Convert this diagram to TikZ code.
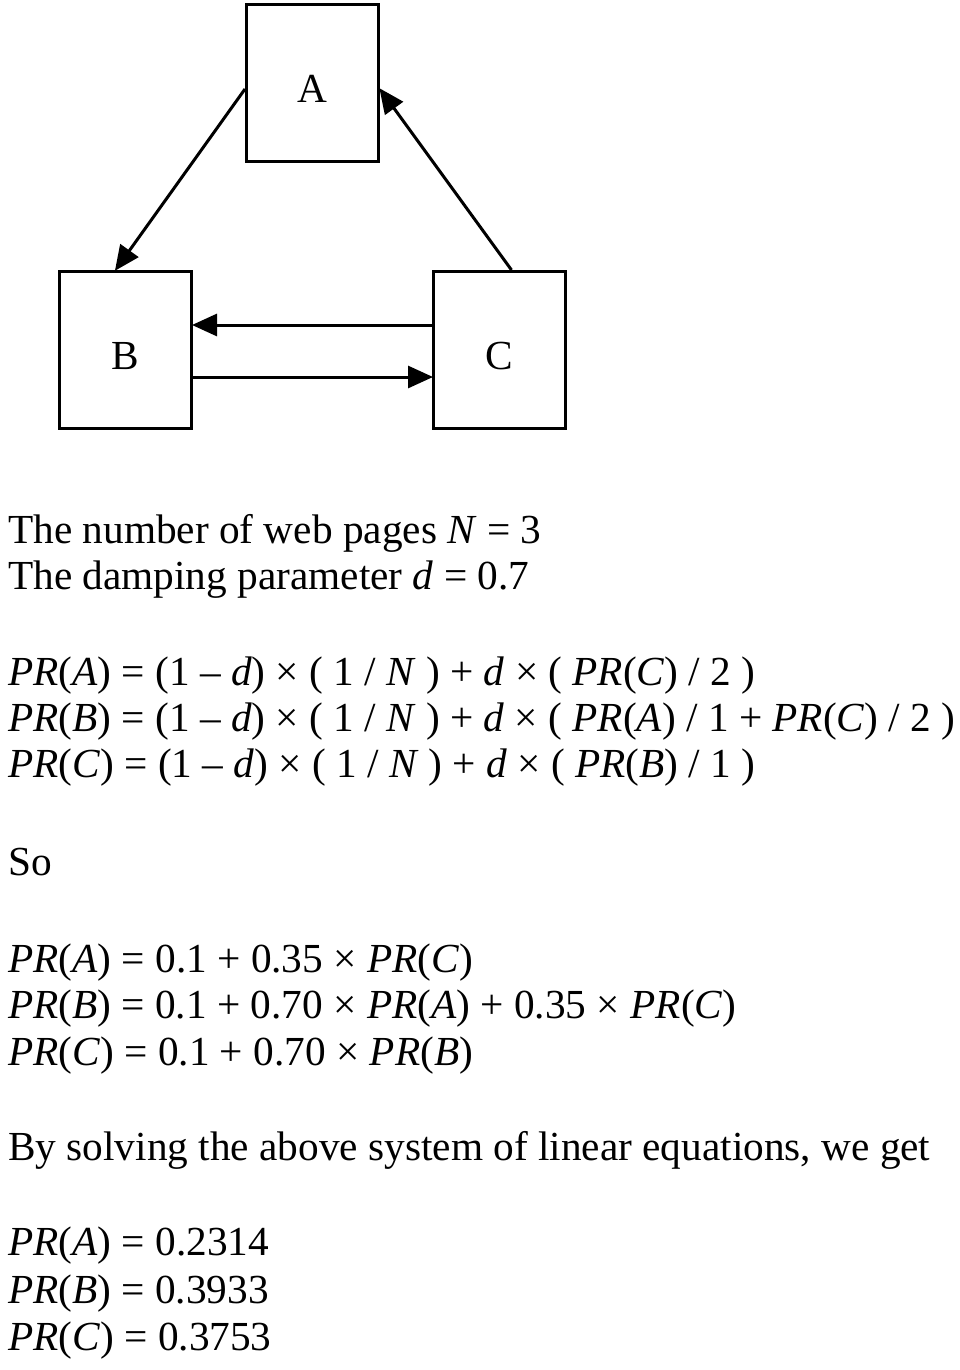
\documentclass[tikz,border=0pt]{standalone}
\usepackage{fontspec}
\setmainfont{Liberation Serif}
\usetikzlibrary{arrows.meta}
\newcommand\iv[1]{\textit{#1}}
\begin{document}
\begin{tikzpicture}[x=1pt,y=-1pt,
  box/.style={draw=black, line width=3pt, minimum width=132pt, minimum height=157pt, inner sep=0pt, text height=39pt, text depth=0pt, font=\fontsize{41.3}{48}\selectfont},
  link/.style={line width=3pt, -{Triangle[length=25pt,width=22pt]}, shorten >=-1pt},
  txt/.style={anchor=base west, inner sep=0pt, font=\fontsize{41.3}{48}\selectfont}]
\useasboundingbox (0,0) rectangle (960,1370);
\fill[white] (0,0) rectangle (960,1370);
\node[box] (A) at (312.5,83) {A};
\node[box] (B) at (125.5,350) {B};
\node[box] (C) at (499.5,350) {C};
\draw[link] ([yshift=-6pt]A.west) -- ([xshift=-10pt]B.north);
\draw[link] ([xshift=12pt]C.north) -- ([yshift=-6pt]A.east);
\draw[link] ([yshift=25pt]C.west) -- ([yshift=25pt]B.east);
\draw[link] ([yshift=-27pt]B.east) -- ([yshift=-27pt]C.west);

\node[txt] (t1) at (8,543) {The number of web pages \iv{N} = 3};
\node[txt] (t2) at (8,589) {The damping parameter \iv{d} = 0.7};
\node[txt] (e1) at (8,685) {\iv{PR}(\iv{A}) = (1 – \iv{d}) × ( 1 / \iv{N} ) + \iv{d} × ( \iv{PR}(\iv{C}) / 2 )};
\node[txt] (e2) at (8,731) {\iv{PR}(\iv{B}) = (1 – \iv{d}) × ( 1 / \iv{N} ) + \iv{d} × ( \iv{PR}(\iv{A}) / 1 + \iv{PR}(\iv{C}) / 2 )};
\node[txt] (e3) at (8,777) {\iv{PR}(\iv{C}) = (1 – \iv{d}) × ( 1 / \iv{N} ) + \iv{d} × ( \iv{PR}(\iv{B}) / 1 )};
\node[txt] (so) at (8,875) {So};
\node[txt] (f1) at (8,972) {\iv{PR}(\iv{A}) = 0.1 + 0.35 × \iv{PR}(\iv{C})};
\node[txt] (f2) at (8,1018) {\iv{PR}(\iv{B}) = 0.1 + 0.70 × \iv{PR}(\iv{A}) + 0.35 × \iv{PR}(\iv{C})};
\node[txt] (f3) at (8,1065) {\iv{PR}(\iv{C}) = 0.1 + 0.70 × \iv{PR}(\iv{B})};
\node[txt] (by) at (8,1160) {By solving the above system of linear equations, we get};
\node[txt] (r1) at (8,1255) {\iv{PR}(\iv{A}) = 0.2314};
\node[txt] (r2) at (8,1303) {\iv{PR}(\iv{B}) = 0.3933};
\node[txt] (r3) at (8,1350) {\iv{PR}(\iv{C}) = 0.3753};
\end{tikzpicture}
\end{document}
